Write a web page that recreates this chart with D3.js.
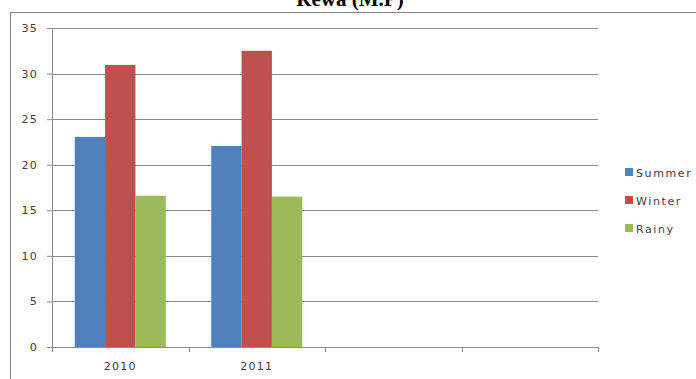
<!DOCTYPE html>
<html>
<head>
<meta charset="utf-8">
<script src="https://cdn.jsdelivr.net/npm/d3@7"></script>
<style>
  body { margin: 0; background: #fff; }
  svg { display: block; }
</style>
</head>
<body>
<div id="wrapper"></div>
<script>
// chart data
const categories = ['2010', '2011', 'c3', 'c4'];
const tickLabels = ['2010', '2011', '', ''];
const seriesNames = ['Summer', 'Winter', 'Rainy'];
const summerValues = [23.05, 22.05];
const winterValues = [30.95, 32.5];
const rainyValues = [16.6, 16.5];
const yTicks = [0, 5, 10, 15, 20, 25, 30, 35];
const colors = ['#4F81BD', '#C0504D', '#9BBB59'];

const seriesValues = [summerValues, winterValues, rainyValues];
const dataset = [];
seriesValues.forEach((vals, s) => {
    vals.forEach((v, i) => dataset.push({ cat: categories[i], series: seriesNames[s], value: v }));
});

// dimensions
const dimensions = {
    width: 696,
    height: 379,
    margins: { top: 28, right: 98, bottom: 32, left: 52 }
};
dimensions.boundedWidth = dimensions.width - dimensions.margins.left - dimensions.margins.right;
dimensions.boundedHeight = dimensions.height - dimensions.margins.top - dimensions.margins.bottom;

const labelFont = '"DejaVu Sans", Verdana, sans-serif';

const svg = d3.select('#wrapper').append('svg')
    .attr('width', dimensions.width)
    .attr('height', dimensions.height);

// outer frame (top + left edges visible)
svg.append('line')
    .attr('x1', 10).attr('x2', dimensions.width)
    .attr('y1', 12.5).attr('y2', 12.5)
    .attr('stroke', '#808080');
svg.append('line')
    .attr('x1', 10.5).attr('x2', 10.5)
    .attr('y1', 12).attr('y2', dimensions.height)
    .attr('stroke', '#808080');

// title (partly cut off at top, as in the source)
svg.append('text')
    .attr('x', 350).attr('y', 6)
    .attr('text-anchor', 'middle')
    .style('font-family', '"Liberation Serif", "Times New Roman", serif')
    .style('font-weight', 'bold')
    .style('font-size', '21px')
    .text('Rewa (M.P)');

const bounds = svg.append('g')
    .attr('transform', `translate(${dimensions.margins.left},${dimensions.margins.top})`);

// scales
const yScale = d3.scaleLinear()
    .domain([0, 35])
    .range([dimensions.boundedHeight, 0]);
const xScale = d3.scaleBand()
    .domain(categories)
    .range([0, dimensions.boundedWidth])
    .padding(0);
const bw = xScale.bandwidth();
const gap = bw * 0.75 / 4.5;
const xInner = d3.scaleBand()
    .domain(seriesNames)
    .range([gap, bw - gap])
    .padding(0);

// gridlines
bounds.append('g')
    .selectAll('line')
    .data(yTicks.filter(d => d > 0))
    .join('line')
    .attr('x1', 0).attr('x2', dimensions.boundedWidth)
    .attr('y1', d => Math.round(yScale(d)) + 0.5)
    .attr('y2', d => Math.round(yScale(d)) + 0.5)
    .attr('stroke', '#8c8c8c');

// bars
bounds.append('g')
    .selectAll('rect')
    .data(dataset)
    .join('rect')
    .attr('x', d => xScale(d.cat) + xInner(d.series))
    .attr('width', xInner.bandwidth())
    .attr('y', d => yScale(d.value))
    .attr('height', d => dimensions.boundedHeight - yScale(d.value))
    .attr('fill', d => colors[seriesNames.indexOf(d.series)]);

// y axis
const yAxis = bounds.append('g')
    .call(d3.axisLeft(yScale).tickValues(yTicks).tickSize(5).tickPadding(9));
yAxis.select('.domain').attr('stroke', '#8c8c8c').attr('d', `M0.5,0V${dimensions.boundedHeight}`);
yAxis.selectAll('.tick line').attr('stroke', '#8c8c8c');
yAxis.selectAll('.tick text')
    .attr('fill', '#404040')
    .style('font-family', labelFont)
    .style('font-size', '11px')
    .style('letter-spacing', '1.3px');

// x axis
const xAxis = bounds.append('g')
    .attr('transform', `translate(0,${dimensions.boundedHeight})`)
    .call(d3.axisBottom(xScale).tickSize(0).tickPadding(15).tickFormat((d, i) => tickLabels[i]));
xAxis.select('.domain').attr('stroke', '#8c8c8c').attr('d', `M0,0.5H${dimensions.boundedWidth}`);
xAxis.selectAll('.tick text')
    .attr('fill', '#404040')
    .style('font-family', labelFont)
    .style('font-size', '11px')
    .style('letter-spacing', '1.3px');
// category boundary ticks
xAxis.append('g')
    .selectAll('line')
    .data(d3.range(categories.length + 1))
    .join('line')
    .attr('x1', i => Math.round(i * bw) + 0.5)
    .attr('x2', i => Math.round(i * bw) + 0.5)
    .attr('y1', 0).attr('y2', 5)
    .attr('stroke', '#8c8c8c');

// legend
const legend = svg.append('g')
    .attr('transform', 'translate(625,168)');
const item = legend.selectAll('g')
    .data(seriesNames)
    .join('g')
    .attr('transform', (d, i) => `translate(0,${i * 28})`);
item.append('rect')
    .attr('width', 8).attr('height', 8)
    .attr('fill', (d, i) => colors[i]);
item.append('text')
    .attr('x', 11).attr('y', 8.5)
    .attr('fill', '#404040')
    .style('font-family', labelFont)
    .style('font-size', '11px')
    .style('letter-spacing', '1.6px')
    .text(d => d);
</script>
</body>
</html>
